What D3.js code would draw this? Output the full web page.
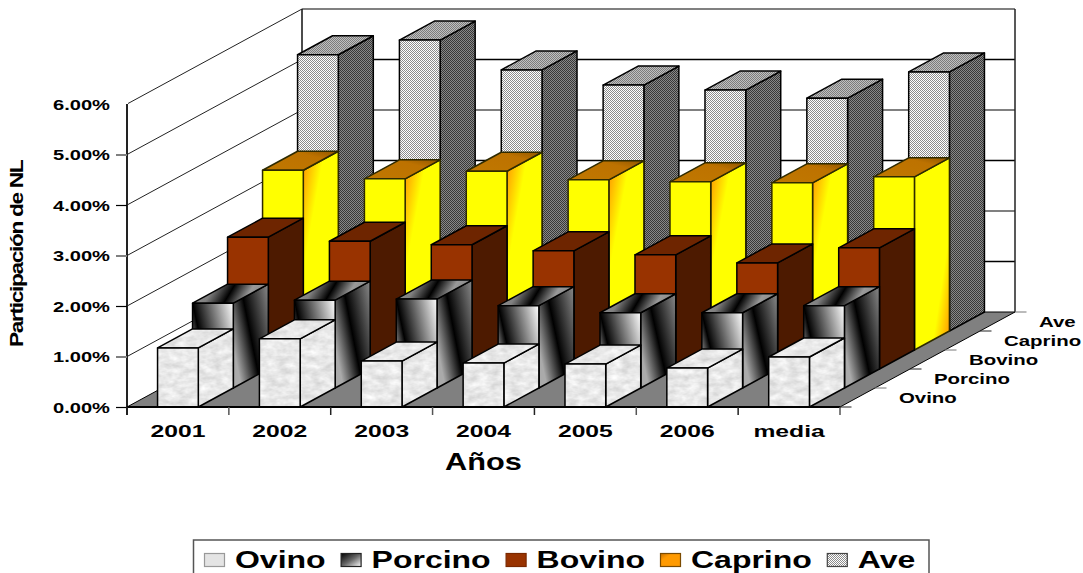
<!DOCTYPE html>
<html><head><meta charset="utf-8">
<script src="https://cdn.jsdelivr.net/npm/d3@7/dist/d3.min.js"></script>
<style>html,body{margin:0;padding:0;background:#fff;overflow:hidden}svg{display:block}text{font-family:"Liberation Sans",Arial,sans-serif;font-weight:bold;fill:#000}</style>
</head><body><svg id="c" width="1083" height="573"></svg>
<script>
const categories = ["2001","2002","2003","2004","2005","2006","media"];
const seriesNames = ["Ovino","Porcino","Bovino","Caprino","Ave"];
const ovino   = [1.17,1.35,0.91,0.87,0.85,0.77,0.99];
const porcino = [1.68,1.74,1.76,1.63,1.49,1.49,1.63];
const bovino  = [2.61,2.53,2.46,2.34,2.26,2.10,2.40];
const caprino = [3.56,3.39,3.54,3.37,3.33,3.31,3.43];
const ave     = [5.47,5.76,5.17,4.87,4.77,4.61,5.13];
const yTicks  = [0,1,2,3,4,5,6];
const seriesValues = [ovino,porcino,bovino,caprino,ave];

const svg = d3.select("#c");
const defs = svg.append("defs");
const x = d3.scaleBand(categories,[127,840]).paddingInner(0.6).paddingOuter(0.3);
const y = d3.scaleLinear([0,6],[407,104]);
const dx = d3.scaleLinear([0,5],[0,175]);
const dy = d3.scaleLinear([0,5],[0,-95]);
const x0 = 127, x1 = 840, y0 = y(0);
const pts = a => a.map(p => p.join(",")).join(" ");

function grad(id,x1_,y1_,x2_,y2_,stops){
  const g = defs.append("linearGradient").attr("id",id).attr("x1",x1_).attr("y1",y1_).attr("x2",x2_).attr("y2",y2_);
  stops.forEach(s => g.append("stop").attr("offset",s[0]).attr("stop-color",s[1]));
}
function checker(id,a,b){
  const p = defs.append("pattern").attr("id",id).attr("width",2).attr("height",2).attr("patternUnits","userSpaceOnUse");
  p.append("rect").attr("width",2).attr("height",2).attr("fill",a);
  p.append("rect").attr("width",1).attr("height",1).attr("fill",b);
  p.append("rect").attr("x",1).attr("y",1).attr("width",1).attr("height",1).attr("fill",b);
}
checker("aveF","#ffffff","#8c8c8c");
checker("aveT","#c0c0c0","#7c7c7c");
checker("aveS","#888888","#383838");
grad("porF",0,0.45,1,0,[[0,"#777"],[0.17,"#000"],[1,"#fff"]]);
grad("porT",0,0,1,0.15,[[0,"#999"],[0.3,"#808080"],[0.55,"#000"],[0.8,"#999"],[1,"#888"]]);
grad("porS",0,0.6,1,0,[[0,"#aaa"],[0.41,"#000"],[1,"#8a8a8a"]]);
grad("capS",0,0,0.6,0.6,[[0,"#ff9000"],[0.5,"#ffff00"],[1,"#ffff00"]]);
grad("capS2",1,1,0.4,0.5,[[0,"#ff9000"],[0.5,"#ffff00"],[1,"#ffff00"]]);
grad("capT",0,1,1,0,[[0,"#c07800"],[0.7,"#bd7200"],[1,"#8f5600"]]);
grad("porL",0,0,1,1,[[0,"#000"],[0.5,"#666"],[1,"#fff"]]);
grad("capL",0,0,1,1,[[0,"#c87000"],[0.3,"#ff9a00"],[1,"#ff9a00"]]);

const marble = defs.append("filter").attr("id","marble").attr("x",0).attr("y",0).attr("width",1).attr("height",1).attr("color-interpolation-filters","sRGB");
marble.append("feTurbulence").attr("type","fractalNoise").attr("baseFrequency","0.09 0.16").attr("numOctaves",3).attr("seed",4).attr("result","n");
marble.append("feColorMatrix").attr("in","n").attr("type","matrix")
  .attr("values","0.22 0 0 0 0.8  0.22 0 0 0 0.8  0.22 0 0 0 0.8  0 0 0 0 1").attr("result","c");
marble.append("feComposite").attr("in","c").attr("in2","SourceAlpha").attr("operator","in").attr("result","m");
marble.append("feMerge").call(s=>{s.append("feMergeNode").attr("in","m");});

// walls
const wall = svg.append("g");
wall.append("polygon").attr("fill","#fff").attr("points",pts([[x0,y(6)],[x0+dx(5),y(6)+dy(5)],[x0+dx(5),y0+dy(5)],[x0,y0]]));
wall.append("polygon").attr("fill","#808080").attr("stroke","#000").attr("stroke-width",1)
  .attr("points",pts([[x0,y0],[x1,y0],[x1+dx(5),y0+dy(5)],[x0+dx(5),y0+dy(5)]]));
yTicks.filter(t=>t>0).forEach(t=>{
  const isGray = t%2===0;
  wall.append("line").attr("x1",x0+1).attr("y1",y(t)-0.5).attr("x2",x0+dx(5)).attr("y2",y(t)+dy(5)).attr("stroke","#222").attr("stroke-width",1);
  wall.append("line").attr("x1",x0+dx(5)).attr("y1",y(t)+dy(5)).attr("x2",x1+dx(5)).attr("y2",y(t)+dy(5))
    .attr("stroke",isGray?"#808080":"#000").attr("stroke-width",isGray?2:1.4);
});
wall.append("line").attr("x1",x0+dx(5)).attr("y1",y(6)+dy(5)).attr("x2",x0+dx(5)).attr("y2",y0+dy(5)).attr("stroke","#111").attr("stroke-width",1.5);
wall.append("line").attr("x1",x1+dx(5)).attr("y1",y(6)+dy(5)).attr("x2",x1+dx(5)).attr("y2",y0+dy(5)).attr("stroke","#222").attr("stroke-width",1.5);

// bars back to front
const faces = [
  {f:"#eee",t:"#eee",s:"#eee",flt:true,st:"#000"},
  {f:"url(#porF)",t:"url(#porT)",s:"url(#porS)",st:"#000"},
  {f:"#993300",t:"#6e2500",s:"#4d1a00",st:"#000"},
  {f:"#ffff00",t:"url(#capT)",s:"url(#capS)",st:"#2e2a00"},
  {f:"url(#aveF)",t:"url(#aveT)",s:"url(#aveS)",st:"#000"}
];
d3.range(4,-1,-1).forEach(si=>{
  const g = svg.append("g").attr("class","series");
  const ox = dx(si), oy = dy(si), ex = dx(1), ey = dy(1), sty = faces[si];
  const bars = g.selectAll("g").data(seriesValues[si].map((v,i)=>({v,cat:categories[i],i}))).join("g");
  bars.each(function(d){
    const b = d3.select(this);
    const l = x(d.cat)+ox, r = l+x.bandwidth(), bot = y0+oy, top = y(d.v)+oy;
    const side = si===3 && d.cat==="media" ? "url(#capS2)" : sty.s;
    const faceData = [
      {fill:side,p:[[r,top],[r+ex,top+ey],[r+ex,bot+ey],[r,bot]]},
      {fill:sty.t,p:[[l,top],[l+ex,top+ey],[r+ex,top+ey],[r,top]]},
      {fill:sty.f,p:[[l,top],[r,top],[r,bot],[l,bot]]}
    ];
    faceData.forEach(q=>{
      if(sty.flt) b.append("polygon").attr("points",pts(q.p)).attr("fill","#eee").attr("filter","url(#marble)");
      b.append("polygon").attr("points",pts(q.p)).attr("fill",sty.flt?"none":q.fill)
       .attr("stroke",sty.st).attr("stroke-width",1.5).attr("stroke-linejoin","round");
    });
  });
});

function stretch(sel,k){
  sel.each(function(){
    const t = d3.select(this);
    const w = this.getComputedTextLength();
    t.attr("textLength",(w*k).toFixed(1)).attr("lengthAdjust","spacingAndGlyphs");
  });
}

// y axis
const yPct = d3.scaleLinear([0,0.06],[407,104]);
const yAxis = svg.append("g").attr("transform",`translate(${x0},0)`)
  .call(d3.axisLeft(yPct).tickValues(yTicks.map(t=>t/100)).tickFormat(d3.format(".2%")).tickSize(11).tickPadding(6).tickSizeOuter(0));
yAxis.select(".domain").attr("d",`M0,${y(6)}V${y0+8}`).attr("stroke","#222").attr("stroke-width",2);
yAxis.selectAll(".tick line").attr("stroke",(d,i)=>i%2?"#808080":"#000").attr("stroke-width",(d,i)=>i%2?2:1.2)
  .attr("display",(d,i)=>i===6?"none":null);
yAxis.selectAll(".tick text").attr("font-size",15).attr("font-family",null).attr("x",-17).attr("dy","0.36em").call(stretch,1.34);

// x axis
const xAxis = svg.append("g").attr("transform",`translate(0,${y0})`)
  .call(d3.axisBottom(x).tickSize(0).tickPadding(18).tickSizeOuter(0));
xAxis.select(".domain").attr("d",`M${x0},0H${x1}`).attr("stroke","#000").attr("stroke-width",2);
xAxis.selectAll(".tick text").attr("font-size",17).attr("font-family",null).attr("fill","#000").call(stretch,1.45);
d3.range(categories.length+1).forEach(i=>{
  xAxis.append("line").attr("x1",x0+i*x.step()).attr("x2",x0+i*x.step()).attr("y1",0).attr("y2",8)
    .attr("stroke",i%2?"#555":"#222").attr("stroke-width",1.5);
});

// depth axis
const dAxis = svg.append("g");
d3.range(6).forEach(i=>{
  dAxis.append("line").attr("x1",x1+dx(i)).attr("x2",x1+dx(i)+11.5).attr("y1",y0+dy(i)).attr("y2",y0+dy(i))
    .attr("stroke",i%2?"#777":"#222").attr("stroke-width",1);
});
dAxis.selectAll("text").data(seriesNames).join("text")
  .attr("x",(d,i)=>899+dx(i)).attr("y",(d,i)=>403+dy(i)).attr("font-size",15).text(d=>d).call(stretch,1.36);

// titles
svg.append("text").attr("x",483.5).attr("y",470).attr("text-anchor","middle").attr("font-size",24).text("Años").call(stretch,1.28);
svg.append("text").attr("transform","translate(23,347) rotate(-90) scale(1.3,1)").attr("font-size",17.5).attr("letter-spacing","-1.05px").text("Participación de NL");

// legend
const lg = svg.append("g");
lg.append("rect").attr("x",193.5).attr("y",540).attr("width",735.5).attr("height",40).attr("fill","#fff").attr("stroke","#555").attr("stroke-width",1.5);
const swatch = ["#e4e4e4","url(#porL)","#993300","url(#capL)","url(#aveF)"];
const swStroke = ["#999","#222","#7a2800","#7a4a00","#444"];
let cx = 204;
seriesNames.forEach((n,i)=>{
  lg.append("rect").attr("x",cx+0.5).attr("y",553.5).attr("width",20).attr("height",13)
    .attr("fill",swatch[i]).attr("stroke",swStroke[i]).attr("stroke-width",1.2);
  const t = lg.append("text").attr("x",cx+31).attr("y",568).attr("font-size",23).text(n).call(stretch,1.39);
  cx += 31 + (+t.attr("textLength")) + 15;
});
</script></body></html>
